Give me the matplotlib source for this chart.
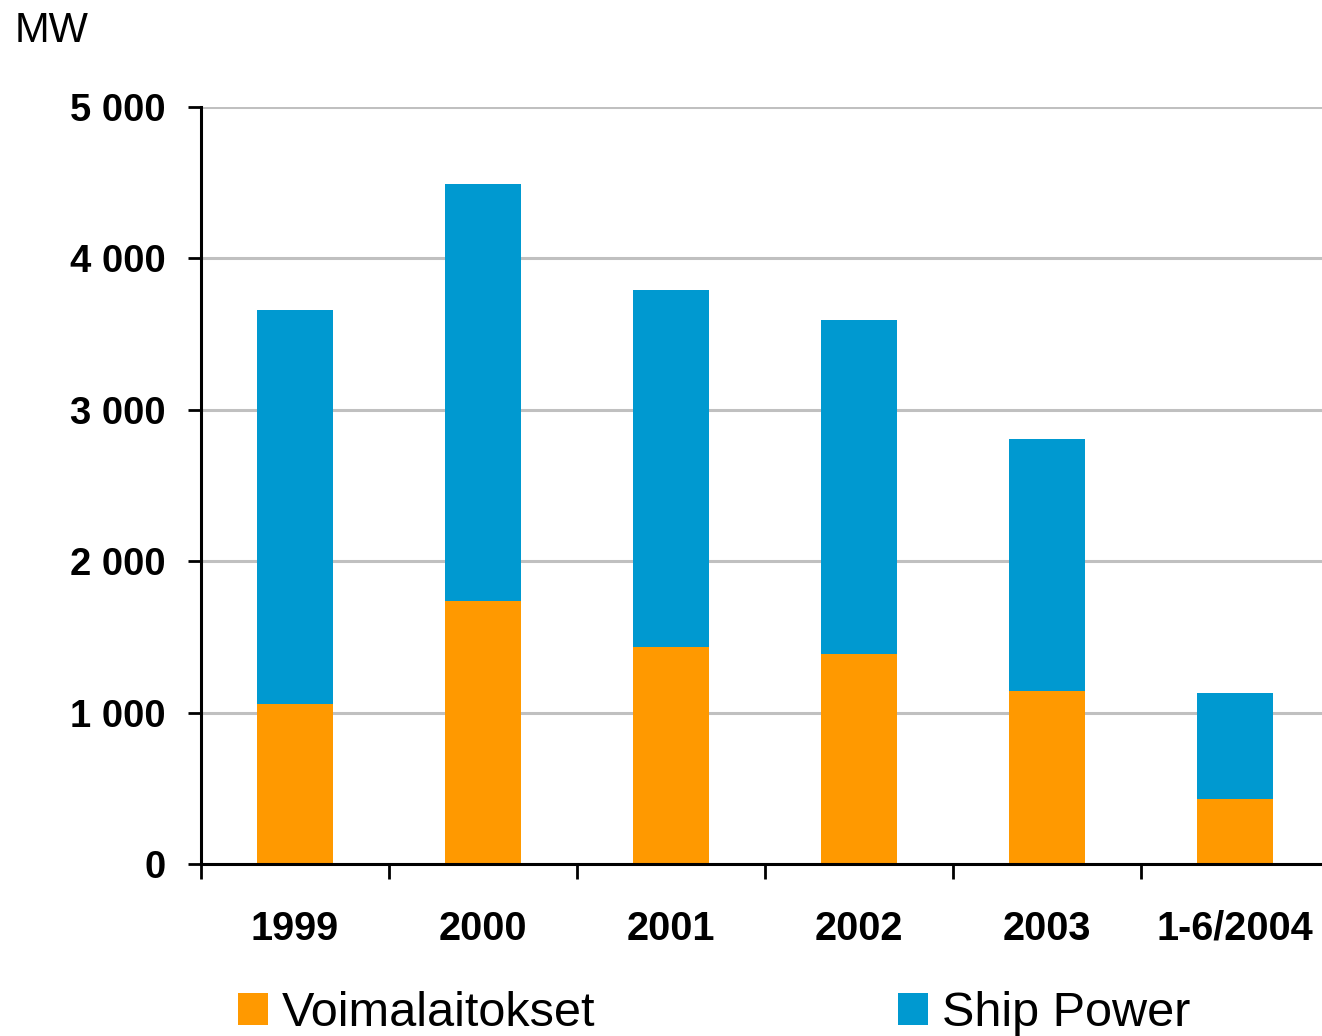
import matplotlib
matplotlib.use("Agg")
import matplotlib.pyplot as plt
from matplotlib.patches import Patch
import numpy as np

plt.rcParams['font.family'] = ['Liberation Sans', 'DejaVu Sans']

categories = ["1999", "2000", "2001", "2002", "2003", "1-6/2004"]
voimalaitokset = [1057, 1737, 1433, 1387, 1143, 429]
ship_power = [2603, 2754, 2358, 2206, 1664, 700]
yticks = [0, 1000, 2000, 3000, 4000, 5000]
ytick_labels = ["0", "1 000", "2 000", "3 000", "4 000", "5 000"]

c_orange = "#FF9900"
c_blue = "#0099D0"

W, H = 1322, 1036
fig = plt.figure(figsize=(W / 100, H / 100), dpi=100)
ax = fig.add_axes([201 / W, (H - 864) / H, 1128 / W, 757 / H])

x = np.arange(len(categories))
ax.bar(x, voimalaitokset, width=0.405, color=c_orange, zorder=3)
ax.bar(x, ship_power, width=0.405, bottom=voimalaitokset, color=c_blue, zorder=3)

ax.set_xlim(-0.5, len(categories) - 0.5)
ax.set_ylim(0, 5000)

ax.set_yticks(yticks)
ax.set_yticklabels(ytick_labels, fontsize=27.5, fontweight='bold')
ax.tick_params(axis='y', length=9.5, width=2, pad=16, direction='out')
ax.yaxis.grid(True, color='#C0C0C0', linewidth=2.2, zorder=0)

ax.set_xticks(np.arange(len(categories) + 1) - 0.5)
ax.set_xticklabels([])
ax.tick_params(axis='x', which='major', length=11, width=2, direction='out')
ax.set_xticks(x, minor=True)
ax.set_xticklabels(categories, minor=True, fontsize=28.5, fontweight='bold')
ax.tick_params(axis='x', which='minor', length=0, pad=33)

for s in ['top', 'right']:
    ax.spines[s].set_visible(False)
for s in ['left', 'bottom']:
    ax.spines[s].set_linewidth(2.2)
    ax.spines[s].set_zorder(4)
ax.set_axisbelow(True)

fig.text(15 / W, 1 - 42 / H, "MW", fontsize=30, ha='left', va='baseline')

handles = [Patch(facecolor=c_orange, edgecolor='none', label="Voimalaitokset"),
           Patch(facecolor=c_blue, edgecolor='none', label="Ship Power")]
fig.legend(handles=handles, loc='lower left', bbox_to_anchor=(238 / W, 0 / H),
           ncol=2, frameon=False, fontsize=35, handlelength=0.62, handleheight=0.62,
           handletextpad=0.29, columnspacing=6.22, borderpad=0, borderaxespad=0)

fig.savefig("out.png", dpi=100)
